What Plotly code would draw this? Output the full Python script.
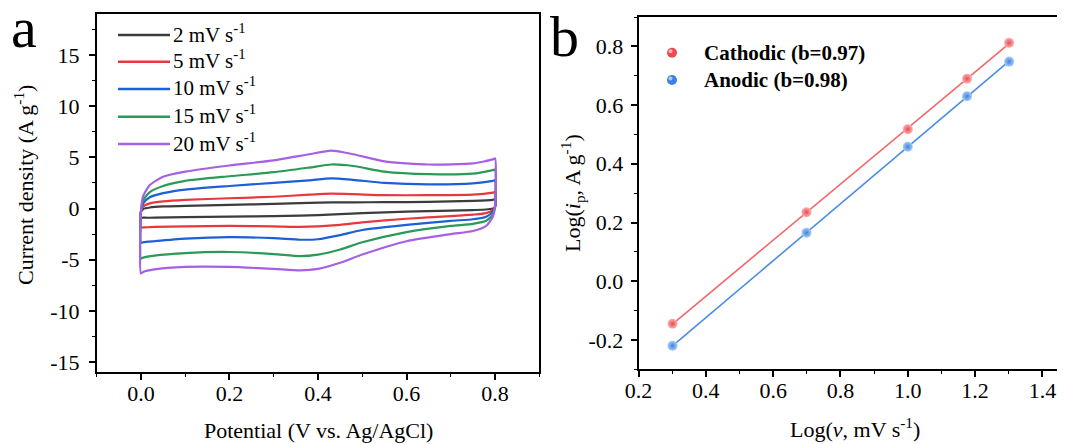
import numpy as np
import plotly.graph_objects as go

# Browser body margin is 8 px, so the paper is 8 px smaller on each visible side
OFF = 8
W, H = 1065 - OFF, 444 - OFF

# ---------------- Panel a data (CV curves) ----------------
rates = ["2", "5", "10", "15", "20"]
v_anodic = [0.0, 0.005, 0.02, 0.05, 0.1, 0.2, 0.3, 0.38, 0.43, 0.48, 0.55, 0.65, 0.75, 0.795, 0.8]
v_cathodic = [0.8, 0.795, 0.78, 0.75, 0.7, 0.6, 0.5, 0.45, 0.4, 0.36, 0.3, 0.2, 0.1, 0.03, 0.005, 0.0]

i_up_2 = [-0.3, -0.05, 0.1, 0.2, 0.25, 0.35, 0.45, 0.55, 0.6, 0.6, 0.62, 0.65, 0.75, 0.85, 0.9]
i_dn_2 = [0.1, 0.0, -0.1, -0.15, -0.2, -0.3, -0.45, -0.55, -0.65, -0.7, -0.75, -0.8, -0.85, -0.9, -0.9, -0.9]
i_up_5 = [-0.3, 0.2, 0.5, 0.7, 0.85, 1.0, 1.15, 1.35, 1.45, 1.4, 1.3, 1.3, 1.35, 1.55, 1.6]
i_dn_5 = [0.1, -0.15, -0.45, -0.6, -0.75, -1.0, -1.35, -1.6, -1.75, -1.8, -1.75, -1.7, -1.75, -1.8, -1.85, -1.85]
i_up_10 = [-0.3, 0.5, 1.1, 1.5, 1.85, 2.2, 2.5, 2.75, 2.95, 2.8, 2.5, 2.35, 2.45, 2.7, 2.75]
i_dn_10 = [0.2, -0.3, -0.8, -1.05, -1.2, -1.6, -2.1, -2.6, -3.0, -3.05, -2.9, -2.8, -2.95, -3.2, -3.3, -3.35]
i_up_15 = [-0.3, 0.8, 1.6, 2.2, 2.7, 3.15, 3.55, 4.0, 4.3, 4.15, 3.6, 3.35, 3.4, 3.75, 3.8]
i_dn_15 = [0.2, -0.6, -1.2, -1.5, -1.7, -2.3, -3.3, -4.0, -4.5, -4.65, -4.45, -4.25, -4.35, -4.6, -4.8, -4.9]
i_up_20 = [-0.3, 1.2, 2.3, 3.1, 3.6, 4.2, 4.7, 5.3, 5.65, 5.3, 4.6, 4.3, 4.4, 4.8, 4.9]
i_dn_20 = [0.3, -0.8, -1.7, -2.2, -2.5, -3.2, -4.5, -5.3, -5.9, -6.05, -5.9, -5.7, -5.7, -5.95, -6.2, -6.35]

cv_up = [i_up_2, i_up_5, i_up_10, i_up_15, i_up_20]
cv_dn = [i_dn_2, i_dn_5, i_dn_10, i_dn_15, i_dn_20]
cv_colors = ["#3c3c3c", "#e8383d", "#1d5fd6", "#2a9a58", "#a660e3"]

a_xticks = [0.0, 0.2, 0.4, 0.6, 0.8]
a_xticktext = ["0.0", "0.2", "0.4", "0.6", "0.8"]
a_yticks = [-15, -10, -5, 0, 5, 10, 15]
a_yticktext = ["-15", "-10", "-5", "0", "5", "10", "15"]

# ---------------- Panel b data ----------------
log_v = [0.301, 0.699, 1.0, 1.176, 1.301]
log_ip_cathodic = [-0.145, 0.235, 0.518, 0.690, 0.812]
log_ip_anodic = [-0.220, 0.165, 0.458, 0.630, 0.748]
b_names = ["Cathodic (b=0.97)", "Anodic (b=0.98)"]

b_xticks = [0.2, 0.4, 0.6, 0.8, 1.0, 1.2, 1.4]
b_xticktext = ["0.2", "0.4", "0.6", "0.8", "1.0", "1.2", "1.4"]
b_yticks = [-0.2, 0.0, 0.2, 0.4, 0.6, 0.8]
b_yticktext = ["-0.2", "0.0", "0.2", "0.4", "0.6", "0.8"]

FONT = "Liberation Serif, Times New Roman, serif"


def px_x(p):
    return (p - OFF) / W


def px_y(p):
    return 1 - (p - OFF) / H


fig = go.Figure()

for r, up, dn, c in zip(rates, cv_up, cv_dn, cv_colors):
    xs = list(v_anodic) + list(v_cathodic) + [v_anodic[0]]
    ys = list(up) + list(dn) + [up[0]]
    fig.add_trace(go.Scatter(
        x=xs, y=ys, mode="lines", name=f"{r} mV s<sup>-1</sup>",
        line=dict(color=c, width=2.2, shape="spline", smoothing=0.6),
        xaxis="x", yaxis="y", showlegend=False,
    ))

# panel b fits
b_line_colors = ["#f0676b", "#4a8de4"]
b_fill_light = ["#f9b4b5", "#a9ccf7"]
b_fill_dark = ["#ea4a50", "#3f82de"]
xfit = np.array([log_v[0], log_v[-1]])
for ys, c in zip([log_ip_cathodic, log_ip_anodic], b_line_colors):
    k, b0 = np.polyfit(log_v, ys, 1)
    fig.add_trace(go.Scatter(x=xfit, y=k * xfit + b0, mode="lines",
                             line=dict(color=c, width=1.6), showlegend=False,
                             xaxis="x2", yaxis="y2"))

for ys, nm, cl, cd in zip([log_ip_cathodic, log_ip_anodic], b_names, b_fill_light, b_fill_dark):
    fig.add_trace(go.Scatter(
        x=log_v, y=ys, mode="markers", name=nm, showlegend=False,
        marker=dict(size=10, color=cl, gradient=dict(type="radial", color=cd),
                    line=dict(width=0)),
        xaxis="x2", yaxis="y2"))

axis_common = dict(
    showline=True, linecolor="black", linewidth=1.6,
    ticks="outside", ticklen=6, tickwidth=1.5, tickcolor="black",
    showgrid=False, zeroline=False, automargin=False,
    tickfont=dict(family=FONT, size=22, color="black"),
)
minor_common = dict(ticks="outside", ticklen=3, tickwidth=1.3, tickcolor="black", tick0=0)

fig.update_layout(
    template=go.layout.Template(),
    width=W, height=H,
    margin=dict(l=0, r=0, t=0, b=0, pad=0),
    paper_bgcolor="white", plot_bgcolor="white",
    font=dict(family=FONT, color="black"),
    showlegend=False,
    xaxis=dict(domain=[px_x(96.7), px_x(539.3)], range=[-0.1, 0.9], anchor="y",
               mirror=True, tickvals=a_xticks, ticktext=a_xticktext, ticklabelstandoff=-6,
               minor=dict(dtick=0.1, **minor_common), **axis_common),
    yaxis=dict(domain=[px_y(372.3), px_y(14)], range=[-16, 19], anchor="x",
               mirror=True, tickvals=a_yticks, ticktext=a_yticktext, ticklabelstandoff=5,
               minor=dict(dtick=2.5, **minor_common), **axis_common),
    xaxis2=dict(domain=[px_x(638.5), 1.0], range=[0.2, 1.467], anchor="y2",
                mirror=True, tickvals=b_xticks, ticktext=b_xticktext, ticklabelstandoff=-6,
                minor=dict(dtick=0.1, **minor_common), **axis_common),
    yaxis2=dict(domain=[px_y(369.3), px_y(17)], range=[-0.3, 0.9], anchor="x2",
                tickvals=b_yticks, ticktext=b_yticktext, ticklabelstandoff=3,
                minor=dict(dtick=0.1, **minor_common), **axis_common),
)

# ---- custom legend, panel a ----
rows_a = [35, 61.7, 89, 116.7, 144]
for r, c, ry in zip(rates, cv_colors, rows_a):
    fig.add_shape(type="line", xref="paper", yref="paper",
                  x0=px_x(118), x1=px_x(170), y0=px_y(ry), y1=px_y(ry),
                  line=dict(color=c, width=2.4))
    fig.add_annotation(text=f"{r} mV s<sup>-1</sup>", xref="paper", yref="paper",
                       x=px_x(171), y=px_y(ry - 2), xanchor="left", yanchor="middle",
                       showarrow=False, font=dict(family=FONT, size=21, color="black"))

# ---- custom legend, panel b ----
rows_b = [52.7, 80]
for nm, cl, cd, ry in zip(b_names, b_fill_light, b_fill_dark, rows_b):
    fig.add_shape(type="circle", xref="paper", yref="paper",
                  x0=px_x(667), x1=px_x(677), y0=px_y(ry + 5), y1=px_y(ry - 5),
                  fillcolor=cd, line=dict(width=0))
    fig.add_shape(type="circle", xref="paper", yref="paper",
                  x0=px_x(668.5), x1=px_x(672.5), y0=px_y(ry + 0.5), y1=px_y(ry - 3.5),
                  fillcolor=cl, line=dict(width=0))
    fig.add_annotation(text=f"<b>{nm}</b>", xref="paper", yref="paper",
                       x=px_x(702), y=px_y(ry), xanchor="left", yanchor="middle",
                       showarrow=False, font=dict(family=FONT, size=21, color="black"))

ann = [
    dict(text="a", x=px_x(24), y=px_y(28), font=dict(size=58)),
    dict(text="b", x=px_x(564), y=px_y(36), font=dict(size=58)),
    dict(text="Potential (V vs. Ag/AgCl)", x=px_x(318), y=px_y(430), font=dict(size=22)),
    dict(text="Log(<i>ν</i>, mV s<sup>-1</sup>)", x=px_x(855), y=px_y(428), font=dict(size=22)),
    dict(text="Current density (A g<sup>-1</sup>)", x=px_x(24), y=px_y(185), font=dict(size=22), textangle=-90),
    dict(text="Log(<i>i</i><sub>p</sub>, A g<sup>-1</sup>)", x=px_x(572), y=px_y(193), font=dict(size=22), textangle=-90),
]
for a in ann:
    a.update(xref="paper", yref="paper", xanchor="center", yanchor="middle", showarrow=False)
    a["font"] = dict(family=FONT, color="black", **a["font"])
    fig.add_annotation(**a)

fig.write_html("out.html")
